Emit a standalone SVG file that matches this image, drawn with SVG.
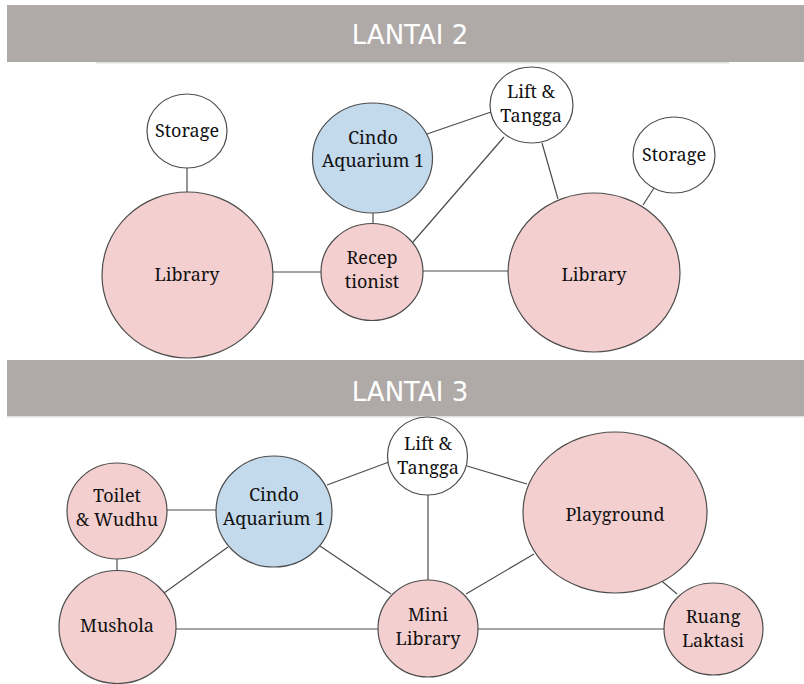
<svg xmlns="http://www.w3.org/2000/svg" width="804" height="684" viewBox="0 0 804 684">
  <style>
    .bar { fill: #afaaa8; }
    .rule { stroke: #e2e0df; stroke-width: 1.5; }
    .title { font-family: 'DejaVu Sans', Verdana, sans-serif; font-size: 26px; fill: #ffffff; text-anchor: middle; }
    .node { stroke: #4d4d4d; stroke-width: 1.2; }
    .pink { fill: #f4cfcf; }
    .blue { fill: #c3d9ec; }
    .white { fill: #ffffff; }
    .label { font-family: 'Noto Serif', 'DejaVu Serif', serif; font-size: 18px; fill: #111111; text-anchor: middle; }
    .edge { stroke: #4d4d4d; stroke-width: 1.2; fill: none; }
  </style>
  <rect width="804" height="684" fill="#ffffff"/>

  <!-- Floor headers -->
  <g id="header-lantai-2">
    <rect class="bar" x="7" y="5" width="797" height="57"/>
    <line class="rule" x1="96" y1="62.8" x2="729" y2="62.8"/>
    <text class="title" x="410" y="44">LANTAI 2</text>
  </g>
  <g id="header-lantai-3">
    <rect class="bar" x="7" y="360" width="797" height="56"/>
    <line class="rule" x1="7" y1="416.8" x2="804" y2="416.8"/>
    <text class="title" x="410" y="401">LANTAI 3</text>
  </g>

  <!-- Connectors -->
  <g id="connectors">
    <!-- Lantai 2 -->
    <line class="edge" x1="187" y1="168" x2="187" y2="192"/>
    <line class="edge" x1="373" y1="213" x2="373" y2="224"/>
    <line class="edge" x1="273" y1="272" x2="321" y2="272"/>
    <line class="edge" x1="423" y1="271" x2="508" y2="271"/>
    <line class="edge" x1="413" y1="242" x2="504" y2="137"/>
    <line class="edge" x1="427" y1="134" x2="491" y2="112"/>
    <line class="edge" x1="542" y1="143" x2="558" y2="199"/>
    <line class="edge" x1="654" y1="188" x2="643" y2="205"/>
    <!-- Lantai 3 -->
    <line class="edge" x1="167" y1="510" x2="216" y2="510"/>
    <line class="edge" x1="117" y1="559" x2="117" y2="571"/>
    <line class="edge" x1="164" y1="593" x2="228" y2="547"/>
    <line class="edge" x1="176" y1="629" x2="378" y2="629"/>
    <line class="edge" x1="320" y1="546" x2="391" y2="594"/>
    <line class="edge" x1="327" y1="485" x2="389" y2="462"/>
    <line class="edge" x1="467" y1="466" x2="527" y2="484"/>
    <line class="edge" x1="428" y1="495" x2="428" y2="580"/>
    <line class="edge" x1="466" y1="594" x2="534" y2="554"/>
    <line class="edge" x1="657" y1="577" x2="677" y2="594"/>
    <line class="edge" x1="478" y1="629" x2="664" y2="629"/>
  </g>

  <!-- Lantai 2 nodes -->
  <g id="l2-storage-left">
    <ellipse class="node white" cx="187" cy="131" rx="40" ry="37"/>
    <text class="label" x="187" y="137">Storage</text>
  </g>
  <g id="l2-library-left">
    <ellipse class="node pink" cx="187.5" cy="275" rx="85.5" ry="83"/>
    <text class="label" x="187" y="281">Library</text>
  </g>
  <g id="l2-cindo-aquarium">
    <ellipse class="node blue" cx="372.5" cy="158" rx="60" ry="55"/>
    <text class="label" x="373" y="144">Cindo</text>
    <text class="label" x="373" y="167">Aquarium 1</text>
  </g>
  <g id="l2-receptionist">
    <ellipse class="node pink" cx="372" cy="272" rx="51" ry="48.5"/>
    <text class="label" x="372" y="264">Recep</text>
    <text class="label" x="372" y="288">tionist</text>
  </g>
  <g id="l2-lift-tangga">
    <ellipse class="node white" cx="531.5" cy="105" rx="41.5" ry="38"/>
    <text class="label" x="531" y="98">Lift &amp;</text>
    <text class="label" x="531" y="122">Tangga</text>
  </g>
  <g id="l2-storage-right">
    <ellipse class="node white" cx="674" cy="155" rx="41" ry="38"/>
    <text class="label" x="674" y="161">Storage</text>
  </g>
  <g id="l2-library-right">
    <ellipse class="node pink" cx="594" cy="272.5" rx="86" ry="79.5"/>
    <text class="label" x="594" y="281">Library</text>
  </g>

  <!-- Lantai 3 nodes -->
  <g id="l3-toilet-wudhu">
    <ellipse class="node pink" cx="117" cy="511" rx="50" ry="48"/>
    <text class="label" x="117" y="502">Toilet</text>
    <text class="label" x="117" y="526">&amp; Wudhu</text>
  </g>
  <g id="l3-cindo-aquarium">
    <ellipse class="node blue" cx="274" cy="511.5" rx="58" ry="55.5"/>
    <text class="label" x="274" y="501">Cindo</text>
    <text class="label" x="274" y="525">Aquarium 1</text>
  </g>
  <g id="l3-mushola">
    <ellipse class="node pink" cx="117.5" cy="627" rx="58.5" ry="56.5"/>
    <text class="label" x="117" y="632">Mushola</text>
  </g>
  <g id="l3-lift-tangga">
    <ellipse class="node white" cx="427.5" cy="456" rx="40" ry="39"/>
    <text class="label" x="428" y="450">Lift &amp;</text>
    <text class="label" x="428" y="474">Tangga</text>
  </g>
  <g id="l3-playground">
    <ellipse class="node pink" cx="615" cy="512.5" rx="92" ry="80.5"/>
    <text class="label" x="615" y="521">Playground</text>
  </g>
  <g id="l3-mini-library">
    <ellipse class="node pink" cx="428" cy="628.5" rx="50" ry="48.5"/>
    <text class="label" x="428" y="621">Mini</text>
    <text class="label" x="428" y="645">Library</text>
  </g>
  <g id="l3-ruang-laktasi">
    <ellipse class="node pink" cx="713.5" cy="629" rx="49.5" ry="46"/>
    <text class="label" x="713" y="623">Ruang</text>
    <text class="label" x="713" y="647">Laktasi</text>
  </g>
</svg>
